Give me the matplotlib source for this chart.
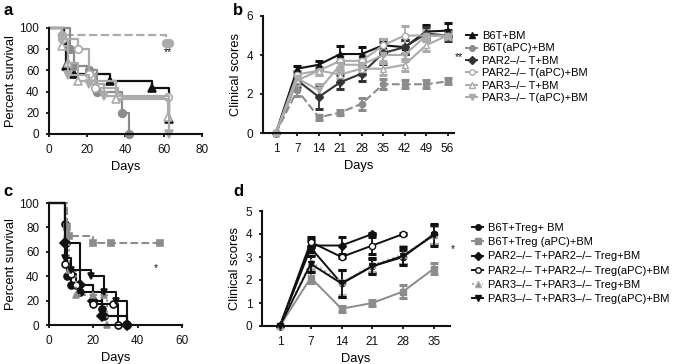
import matplotlib
matplotlib.use("Agg")
import matplotlib.pyplot as plt
from matplotlib.lines import Line2D
import numpy as np

plt.rcParams['font.family'] = ['Liberation Sans', 'DejaVu Sans']

# ---------------- Data ----------------
# Panel a: survival (Kaplan-Meier step data)
a_labels = ["B6T+BM", "B6T(aPC)+BM", "PAR2\u2013/\u2013 T+BM", "PAR2\u2013/\u2013 T(aPC)+BM",
            "PAR3\u2013/\u2013 T+BM", "PAR3\u2013/\u2013 T(aPC)+BM"]
a_t_b6t = [0, 8, 9, 13, 32, 54, 63]
a_s_b6t = [100, 86, 64, 57, 50, 43, 14]
a_t_b6t_apc = [0, 7, 61, 63]
a_s_b6t_apc = [100, 93, 86, 86]
a_t_par2 = [0, 11, 13, 21, 25, 38, 42]
a_s_par2 = [100, 80, 64, 60, 40, 20, 0]
a_t_par2_apc = [0, 7, 15, 21, 24, 36, 62]
a_s_par2_apc = [100, 90, 80, 57, 43, 35, 35]
a_t_par3 = [0, 7, 10, 15, 35, 62]
a_s_par3 = [100, 83, 67, 50, 33, 16]
a_t_par3_apc = [0, 7, 10, 21, 29, 63]
a_s_par3_apc = [100, 90, 56, 47, 36, 0]

# Panel b: clinical scores
b_days = ["1", "7", "14", "21", "28", "35", "42", "49", "56"]
b_b6t = [0, 3.3, 3.5, 4.05, 4.05, 4.5, 4.4, 5.2, 5.25]
b_b6t_err = [0, 0.12, 0.2, 0.4, 0.35, 0.3, 0.35, 0.35, 0.4]
b_b6t_apc = [0, 2.2, 0.8, 1.05, 1.5, 2.5, 2.5, 2.5, 2.65]
b_b6t_apc_err = [0, 0.3, 0.12, 0.15, 0.3, 0.25, 0.2, 0.2, 0.15]
b_par2 = [0, 2.7, 1.85, 2.6, 3.05, 4.1, 4.4, 5.1, 5.0]
b_par2_err = [0, 0.35, 0.6, 0.35, 0.4, 0.55, 0.35, 0.35, 0.3]
b_par2_apc = [0, 3.0, 3.2, 3.7, 3.7, 4.5, 5.0, 5.0, 5.0]
b_par2_apc_err = [0, 0.2, 0.2, 0.3, 0.3, 0.3, 0.5, 0.3, 0.2]
b_par3 = [0, 2.7, 3.2, 3.0, 3.3, 3.3, 3.5, 4.5, 5.0]
b_par3_err = [0, 0.25, 0.2, 0.25, 0.3, 0.3, 0.3, 0.3, 0.2]
b_par3_apc = [0, 2.8, 2.2, 3.5, 3.5, 4.0, 4.0, 5.0, 4.95]
b_par3_apc_err = [0, 0.2, 0.3, 0.3, 0.3, 0.3, 0.3, 0.2, 0.15]

# Panel c: survival
c_labels = ["B6T+Treg+ BM", "B6T+Treg (aPC)+BM", "PAR2\u2013/\u2013 T+PAR2\u2013/\u2013 Treg+BM",
            "PAR2\u2013/\u2013 T+PAR2\u2013/\u2013 Treg(aPC)+BM", "PAR3\u2013/\u2013 T+PAR3\u2013/\u2013 Treg+BM",
            "PAR3\u2013/\u2013 T+PAR3\u2013/\u2013 Treg(aPC)+BM"]
c_t_b6t = [0, 7, 7.5, 8, 10, 14, 24, 25, 35]
c_s_b6t = [100, 83, 67, 40, 33, 27, 13, 7, 0]
c_t_b6t_apc = [0, 8, 9, 20, 28, 50]
c_s_b6t_apc = [100, 80, 73, 67, 67, 67]
c_t_par2 = [0, 7, 14, 20, 24, 35]
c_s_par2 = [100, 67, 33, 20, 7, 0]
c_t_par2_apc = [0, 7, 10, 12, 20, 29, 31]
c_s_par2_apc = [100, 50, 42, 33, 17, 17, 0]
c_t_par3 = [0, 8, 9, 12, 20, 25, 26]
c_s_par3 = [100, 75, 45, 25, 25, 25, 0]
c_t_par3_apc = [0, 7, 10, 19, 25, 30, 35]
c_s_par3_apc = [100, 55, 45, 40, 27, 20, 0]

# Panel d: clinical scores
d_days = ["1", "7", "14", "21", "28", "35"]
d_b6t = [0, 3.4, 1.85, 2.6, 3.0, 4.0]
d_b6t_err = [0, 0.3, 0.6, 0.3, 0.3, 0.45]
d_b6t_apc = [0, 2.1, 0.75, 1.0, 1.5, 2.5]
d_b6t_apc_err = [0, 0.25, 0.12, 0.12, 0.3, 0.25]
d_par2 = [0, 3.5, 3.5, 4.0, np.nan, np.nan]
d_par2_err = [0, 0.3, 0.35, 0.05, 0, 0]
d_par2_apc = [0, 3.65, 3.0, 3.5, 4.0, np.nan]
d_par2_apc_err = [0, 0.2, 0.05, 0.35, 0.05, 0]
d_par3 = [0, 2.8, 1.9, 2.65, 3.1, 3.95]
d_par3_err = [0, 0.3, 0.55, 0.3, 0.4, 0.4]
d_par3_apc = [0, 2.7, 1.85, 2.6, 3.05, 3.95]
d_par3_apc_err = [0, 0.35, 0.6, 0.35, 0.4, 0.45]

# ---------------- Figure ----------------
W, H = 675, 364
fig = plt.figure(figsize=(W / 100, H / 100), dpi=100)

def px_axes(left, right, top, bottom):
    return fig.add_axes([left / W, 1 - bottom / H, (right - left) / W, (bottom - top) / H])

TICK_FS = 8.5
LAB_FS = 9.3
LEG_FS = 8

def style(ax):
    for s in ['top', 'right']:
        ax.spines[s].set_visible(False)
    for s in ['left', 'bottom']:
        ax.spines[s].set_linewidth(1.5)
        ax.spines[s].set_color('#111111')
    ax.tick_params(direction='out', length=2.5, width=1.3, labelsize=TICK_FS, pad=4.5, colors='#111111')

BLACK = '#111111'
DARK = '#333333'
MID = '#8c8c8c'
LIGHT = '#ababab'

# ---- Panel a ----
axa = px_axes(49, 202, 28, 134)
style(axa)
a_series = [
    (a_t_b6t, a_s_b6t, BLACK, '^', BLACK, '-'),
    (a_t_b6t_apc, a_s_b6t_apc, LIGHT, 'o', LIGHT, '--'),
    (a_t_par2, a_s_par2, MID, 'o', MID, '-'),
    (a_t_par2_apc, a_s_par2_apc, LIGHT, 'o', 'white', '-'),
    (a_t_par3, a_s_par3, LIGHT, '^', 'white', '-'),
    (a_t_par3_apc, a_s_par3_apc, LIGHT, 'v', LIGHT, '-'),
]
for t, s, c, m, mfc, ls in a_series:
    axa.step(t, s, where='post', color=c, lw=1.6, ls=ls, clip_on=False)
    axa.plot(t[1:], s[1:], ls='none', marker=m, ms=5.5, color=c, mfc=mfc, mec=c, mew=1.2, clip_on=False)
axa.set_xlim(0, 80)
axa.set_ylim(0, 100)
axa.set_xticks([0, 20, 40, 60, 80])
axa.set_yticks([0, 20, 40, 60, 80, 100])
axa.set_xlabel('Days', fontsize=LAB_FS, labelpad=3.5)
axa.set_ylabel('Percent survival', fontsize=LAB_FS, labelpad=2)
axa.text(62, 74, '**', fontsize=7.5, ha='center', color=BLACK)

# ---- Panel b ----
axb = px_axes(263, 454, 16, 133)
style(axb)
xb = np.arange(len(b_days))
b_series = [
    (b_b6t, b_b6t_err, BLACK, '^', BLACK, '-', a_labels[0]),
    (b_b6t_apc, b_b6t_apc_err, MID, 'o', MID, '--', a_labels[1]),
    (b_par2, b_par2_err, DARK, 'D', DARK, '-', a_labels[2]),
    (b_par2_apc, b_par2_apc_err, LIGHT, 'o', 'white', '-', a_labels[3]),
    (b_par3, b_par3_err, LIGHT, '^', 'white', '-', a_labels[4]),
    (b_par3_apc, b_par3_apc_err, LIGHT, 'v', LIGHT, '-', a_labels[5]),
]
b_handles = []
for y, e, c, m, mfc, ls, lab in b_series:
    axb.errorbar(xb, y, yerr=e, color=c, ls=ls, lw=1.5, marker=m, ms=4.5, mfc=mfc, mec=c,
                 ecolor=c, elinewidth=1.3, capsize=3, capthick=2.2, clip_on=False)
    b_handles.append(Line2D([], [], color=c, ls='-', lw=1.4, marker=m, ms=4, mfc=mfc, mec=c))
axb.set_xlim(-0.6, 8.3)
axb.set_ylim(0, 6)
axb.set_xticks(xb)
axb.set_xticklabels(b_days)
axb.set_yticks([0, 2, 4, 6])
axb.set_xlabel('Days', fontsize=LAB_FS, labelpad=3.5)
axb.set_ylabel('Clinical scores', fontsize=LAB_FS, labelpad=3)
axb.text(8.55, 3.75, '**', fontsize=7.5, ha='center', color=BLACK, clip_on=False)
fig.legend(b_handles, a_labels, loc='upper left', bbox_to_anchor=(466 / W, 1 - 31 / H),
           frameon=False, fontsize=LEG_FS, handlelength=1.0, handletextpad=0.45,
           labelspacing=0.22, borderpad=0, borderaxespad=0)

# ---- Panel c ----
axc = px_axes(49, 182, 203, 325)
style(axc)
c_series = [
    (c_t_b6t, c_s_b6t, BLACK, 'o', BLACK, '-'),
    (c_t_b6t_apc, c_s_b6t_apc, MID, 's', MID, '--'),
    (c_t_par2, c_s_par2, BLACK, 'D', BLACK, '-'),
    (c_t_par2_apc, c_s_par2_apc, BLACK, 'o', 'white', '-'),
    (c_t_par3, c_s_par3, MID, '^', MID, ':'),
    (c_t_par3_apc, c_s_par3_apc, BLACK, 'v', BLACK, '-'),
]
for t, s, c, m, mfc, ls in c_series:
    axc.step(t, s, where='post', color=c, lw=1.5, ls=ls, clip_on=False)
    axc.plot(t[1:], s[1:], ls='none', marker=m, ms=5, color=c, mfc=mfc, mec=c, mew=1.2, clip_on=False)
axc.set_xlim(0, 60)
axc.set_ylim(0, 100)
axc.set_xticks([0, 20, 40, 60])
axc.set_yticks([0, 20, 40, 60, 80, 100])
axc.set_xlabel('Days', fontsize=LAB_FS, labelpad=3.5)
axc.set_ylabel('Percent survival', fontsize=LAB_FS, labelpad=2)
axc.text(48, 44, '*', fontsize=7.5, ha='center', color=BLACK)

# ---- Panel d ----
axd = px_axes(262, 450, 211, 326)
style(axd)
xd = np.arange(len(d_days))
d_series = [
    (d_b6t, d_b6t_err, BLACK, 'o', BLACK, '-', c_labels[0]),
    (d_b6t_apc, d_b6t_apc_err, MID, 's', MID, '-', c_labels[1]),
    (d_par2, d_par2_err, BLACK, 'D', BLACK, '-', c_labels[2]),
    (d_par2_apc, d_par2_apc_err, BLACK, 'o', 'white', '-', c_labels[3]),
    (d_par3, d_par3_err, LIGHT, '^', MID, ':', c_labels[4]),
    (d_par3_apc, d_par3_apc_err, BLACK, 'v', BLACK, '-', c_labels[5]),
]
d_handles = []
for y, e, c, m, mfc, ls, lab in d_series:
    axd.errorbar(xd, y, yerr=e, color=c, ls=ls, lw=1.4, marker=m, ms=4.5, mfc=mfc, mec=c,
                 ecolor=c, elinewidth=1.3, capsize=3, capthick=2.2, clip_on=False)
    d_handles.append(Line2D([], [], color=c, ls=ls, lw=1.4, marker=m, ms=4, mfc=mfc, mec=c))
axd.set_xlim(-0.58, 5.52)
axd.set_ylim(0, 5)
axd.set_xticks(xd)
axd.set_xticklabels(d_days)
axd.set_yticks([0, 1, 2, 3, 4, 5])
axd.set_xlabel('Days', fontsize=LAB_FS, labelpad=3.5)
axd.set_ylabel('Clinical scores', fontsize=LAB_FS, labelpad=3)
axd.text(5.6, 3.2, '*', fontsize=7.5, ha='center', color=BLACK, clip_on=False)
fig.legend(d_handles, c_labels, loc='upper left', bbox_to_anchor=(472 / W, 1 - 223 / H),
           frameon=False, fontsize=LEG_FS, handlelength=1.0, handletextpad=0.45,
           labelspacing=0.38, borderpad=0, borderaxespad=0)

# Panel letters
for x, y, s in [(3, 3, 'a'), (233, 3, 'b'), (3, 184, 'c'), (233, 184, 'd')]:
    fig.text(x / W, 1 - y / H, s, fontsize=12, fontweight='bold', va='top', ha='left')

fig.savefig('out.png', dpi=100)
